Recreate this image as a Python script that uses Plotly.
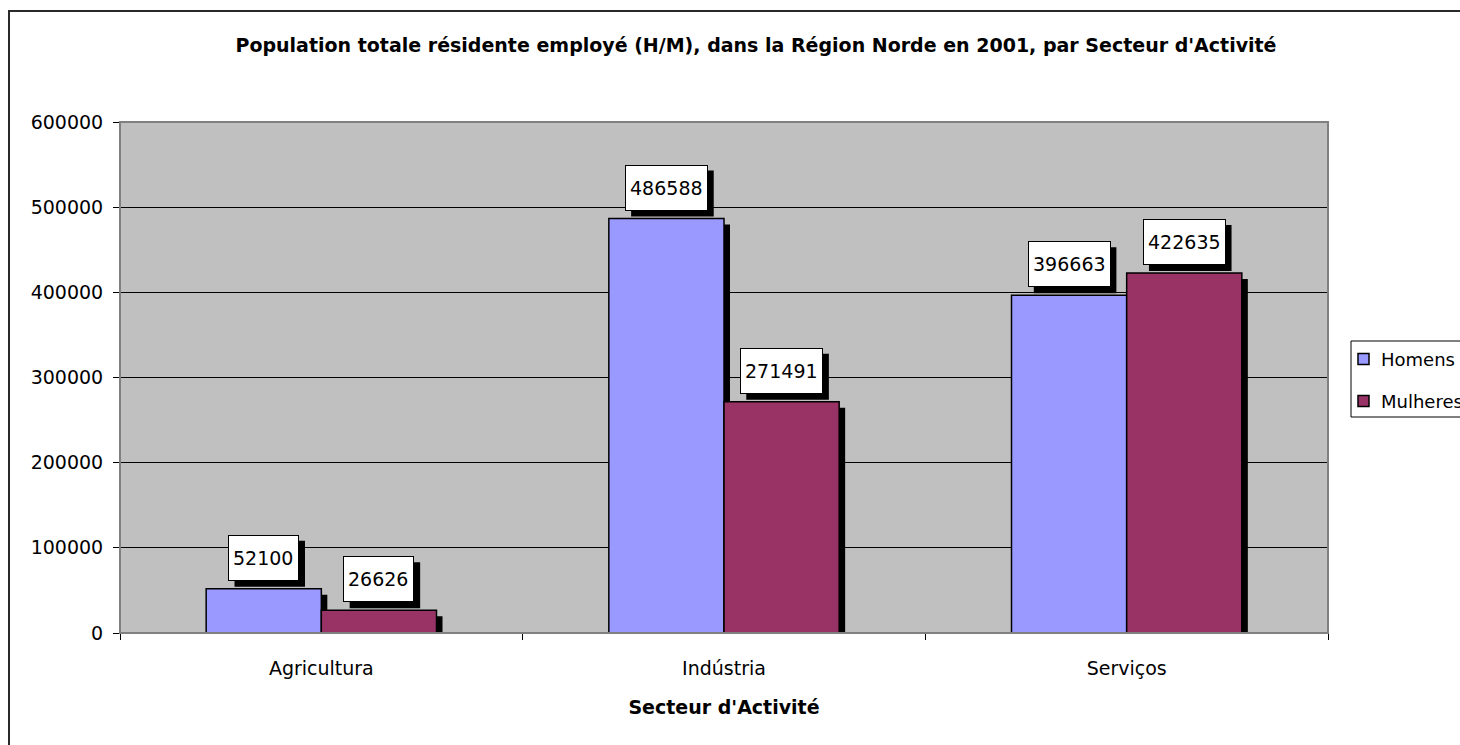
import plotly.graph_objects as go

categories = ["Agricultura", "Indústria", "Serviços"]
homens = [52100, 486588, 396663]
mulheres = [26626, 271491, 422635]
series_names = ["Homens", "Mulheres"]
colors = ["#9999FF", "#993366"]

title_text = "Population totale résidente employé (H/M), dans la Région Norde en 2001, par Secteur d'Activité"
x_title = "Secteur d'Activité"

# body margin is removed by a post script, so the figure starts at page (0, 0)
PAGE_OFF = 0
W, H = 1460, 745
ML, MT = 120, 122
plot_w, plot_h = 1208, 511
MR = W - ML - plot_w
MB = H - MT - plot_h
YMAX = 600000
bar_w = 0.286
shadow_px = 6
sx = shadow_px / (plot_w / len(categories))   # shadow shift in category units
sy = shadow_px / plot_h * YMAX                 # shadow shift in data units

FONT = "DejaVu Sans"
DIGIT_W = 12.1   # approx width of one digit at 19px


def px_x(page_x):
    return (page_x - PAGE_OFF - ML) / plot_w


def px_y(page_y):
    return (MT + plot_h - (page_y - PAGE_OFF)) / plot_h


fig = go.Figure()
series = [homens, mulheres]
offsets = [-bar_w, 0.0]

# bar shadows
for vals, off in zip(series, offsets):
    fig.add_trace(go.Bar(
        x=categories, y=[max(v - sy, 0) for v in vals],
        offset=off + sx, width=bar_w,
        marker=dict(color="black", line=dict(width=0)),
        showlegend=False, hoverinfo="skip"))

# bars
for vals, off, name, col in zip(series, offsets, series_names, colors):
    fig.add_trace(go.Bar(
        x=categories, y=vals, name=name,
        offset=off, width=bar_w,
        marker=dict(color=col, line=dict(color="black", width=1.5)),
        showlegend=False))

annotations = []
shapes = [
    # outer chart border (left and top visible)
    dict(type="rect", xref="paper", yref="paper",
         x0=px_x(9), x1=px_x(1480),
         y0=px_y(770), y1=px_y(11),
         line=dict(color="#2a2a2a", width=2), layer="below"),
    # plot-area border (grey top/right)
    dict(type="rect", xref="paper", yref="paper", x0=0, x1=1, y0=0, y1=1,
         line=dict(color="#808080", width=2), layer="above"),
]

# data labels: white boxes with black shadows
for vals, off in zip(series, offsets):
    for ci, v in enumerate(vals):
        xc = ci + off + bar_w / 2
        txt = str(v)
        tw = len(txt) * DIGIT_W
        box_w = tw + 10
        box_h = 46
        shapes.append(dict(type="rect", xref="x", yref="y",
                           xsizemode="pixel", ysizemode="pixel",
                           xanchor=xc, yanchor=v,
                           x0=-box_w / 2 + shadow_px, x1=box_w / 2 + shadow_px,
                           y0=8 - shadow_px, y1=8 - shadow_px + box_h,
                           fillcolor="black", line=dict(width=0), layer="above"))
        annotations.append(dict(x=xc, y=v, xref="x", yref="y", text=txt, showarrow=False,
                                yanchor="bottom", xanchor="center", width=tw, height=36,
                                borderpad=4, borderwidth=1, yshift=8,
                                bgcolor="white", bordercolor="black",
                                font=dict(family=FONT, size=19, color="black")))

# legend (drawn as in the reference: box clipped at the right edge)
shapes.append(dict(type="rect", xref="paper", yref="paper",
                   x0=px_x(1351), x1=px_x(1475), y0=px_y(417), y1=px_y(341),
                   fillcolor="white", line=dict(color="black", width=1), layer="above"))
for name, col, yc in zip(series_names, colors, [359, 401]):
    shapes.append(dict(type="rect", xref="paper", yref="paper",
                       x0=px_x(1358), x1=px_x(1369), y0=px_y(yc + 5.5), y1=px_y(yc - 5.5),
                       fillcolor=col, line=dict(color="black", width=1.5), layer="above"))
    annotations.append(dict(x=px_x(1379), y=px_y(yc), xref="paper", yref="paper",
                            text=name, showarrow=False, xanchor="left", yanchor="middle",
                            font=dict(family=FONT, size=18, color="black")))

fig.update_layout(
    width=W, height=H,
    margin=dict(l=ML, r=MR, t=MT, b=MB, autoexpand=False),
    paper_bgcolor="white", plot_bgcolor="#C0C0C0",
    barmode="overlay",
    title=dict(text=title_text, x=px_x(756), xref="paper", xanchor="center",
               y=1 - 45 / H, yref="container", yanchor="middle",
               font=dict(family=FONT, size=19, color="black", weight="bold")),
    font=dict(family=FONT, size=19, color="black"),
    xaxis=dict(type="category", range=[-0.5, 2.5], tickson="boundaries",
               ticks="outside", ticklen=6, tickcolor="black", tickwidth=1,
               showline=True, linecolor="black", linewidth=1, showgrid=False,
               ticklabelstandoff=18,
               tickfont=dict(family=FONT, size=19, color="black"),
               title=dict(text=x_title, standoff=22,
                          font=dict(family=FONT, size=19, color="black", weight="bold"))),
    yaxis=dict(range=[0, YMAX], dtick=100000, tickformat="d",
               ticks="outside", ticklen=6, tickcolor="black", tickwidth=1,
               showline=True, linecolor="black", linewidth=1,
               showgrid=True, gridcolor="black", gridwidth=1, zeroline=False,
               tickfont=dict(family=FONT, size=19, color="black"), ticklabelstandoff=6),
    annotations=annotations,
    shapes=shapes,
    showlegend=False,
)

fig.write_html("out.html",
               config={"displayModeBar": False},
               post_script="document.body.style.margin='0';document.body.style.overflow='hidden';")
